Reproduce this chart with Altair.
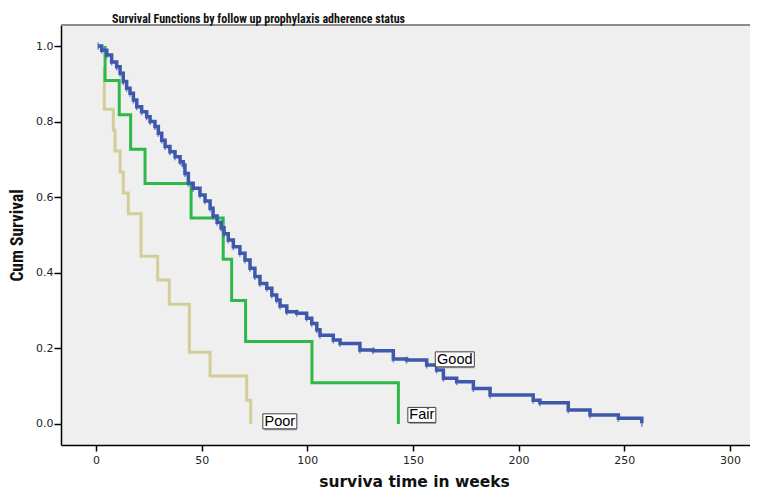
import altair as alt
import pandas as pd

# ---------------- data ----------------
good_t = [1.0, 2.7, 5.1, 7.4, 9.8, 11.4, 12.9, 14.5, 16.1, 17.7, 19.3, 21.6, 24.0, 25.6,
          27.9, 29.5, 31.1, 32.7, 35.0, 37.4, 39.8, 41.3, 42.1, 43.7, 46.0, 49.2, 51.6,
          54.0, 55.4, 57.3, 59.2, 60.6, 62.6, 65.0, 68.1, 70.5, 72.9, 75.2, 77.6, 80.8,
          83.2, 85.5, 87.1, 90.3, 95.0, 99.7, 102.1, 104.5, 106.0, 112.3, 115.5, 124.9,
          131.2, 140.7, 147.0, 156.5, 161.2, 164.4, 170.7, 178.6, 186.5, 206.9, 210.1,
          223.5, 233.8, 247.2, 258.3]
good_s = [1.0, 0.989, 0.976, 0.958, 0.945, 0.928, 0.906, 0.888, 0.875, 0.857, 0.839, 0.826,
          0.813, 0.800, 0.787, 0.769, 0.751, 0.734, 0.720, 0.707, 0.694, 0.685, 0.663,
          0.637, 0.624, 0.606, 0.590, 0.571, 0.550, 0.534, 0.519, 0.503, 0.487, 0.469,
          0.452, 0.434, 0.412, 0.390, 0.372, 0.359, 0.341, 0.328, 0.312, 0.297, 0.293,
          0.280, 0.266, 0.249, 0.235, 0.222, 0.213, 0.196, 0.194, 0.172, 0.169, 0.156,
          0.143, 0.121, 0.112, 0.094, 0.077, 0.063, 0.056, 0.037, 0.024, 0.015, 0.002]

fair_t = [4.3, 4.3, 11.0, 16.4, 23.2, 45.0, 60.2, 64.2, 70.8, 102.2, 143.1]
fair_s = [1.0, 0.909, 0.818, 0.727, 0.636, 0.545, 0.436, 0.327, 0.218, 0.109, 0.0]

poor_t = [3.9, 3.9, 8.2, 9.0, 11.4, 12.9, 15.3, 21.3, 29.2, 34.7, 44.2, 54.0, 71.3, 73.2]
poor_s = [0.945, 0.833, 0.778, 0.722, 0.667, 0.611, 0.556, 0.444, 0.381, 0.317, 0.190,
          0.127, 0.063, 0.0]

label_text = ["Good", "Fair", "Poor"]
label_t = [169.8, 154.2, 87.0]
label_s = [0.171, 0.024, 0.007]

x_ticks = [0, 50, 100, 150, 200, 250, 300]
y_ticks = [0.0, 0.2, 0.4, 0.6, 0.8, 1.0]

# ---------------- styling ----------------
W, H = 689, 420
X_DOM = [-16.56, 309.5]
Y_DOM = [-0.0556, 1.0556]
BLUE, GREEN, TAN = "#3E58AC", "#2EB848", "#D3CE97"
BOX_PX = {"Good": 39, "Fair": 28, "Poor": 34}
BOX_H = 15
NARROW = "Roboto Condensed, Liberation Sans Narrow, Roboto, Liberation Sans"


def series(ts, ss):
    return pd.DataFrame({"t": ts, "s": ss, "i": list(range(len(ts)))})


good_df = series(good_t, good_s)
fair_df = series(fair_t, fair_s)
poor_df = series(poor_t, poor_s)

px_x = W / (X_DOM[1] - X_DOM[0])
px_y = H / (Y_DOM[1] - Y_DOM[0])
lab_df = pd.DataFrame({"label": label_text, "t": label_t, "s": label_s})
lab_df["x1"] = [t - BOX_PX[l] / 2 / px_x for t, l in zip(label_t, label_text)]
lab_df["x2"] = [t + BOX_PX[l] / 2 / px_x for t, l in zip(label_t, label_text)]
lab_df["y1"] = [s - BOX_H / 2 / px_y for s in label_s]
lab_df["y2"] = [s + BOX_H / 2 / px_y for s in label_s]

xs = alt.Scale(domain=X_DOM, nice=False, zero=False)
ys = alt.Scale(domain=Y_DOM, nice=False, zero=False)

x_axis = alt.Axis(values=x_ticks, title="surviva time in weeks", grid=False,
                  domainColor="#000", domainWidth=1.5, tickColor="#000", tickWidth=1.5,
                  tickSize=6, labelPadding=3, labelFont="DejaVu Sans", labelFontSize=11,
                  labelColor="#222", titleFont="DejaVu Sans", titleFontSize=15.5,
                  titleFontWeight="bold", titleColor="#111", titlePadding=9, titleX=353)
y_axis = alt.Axis(values=y_ticks, format=".1f", title="Cum Survival", grid=False,
                  domainColor="#000", domainWidth=1.5, tickColor="#000", tickWidth=1.5,
                  tickSize=7, labelPadding=1, labelFont="DejaVu Sans", labelFontSize=11,
                  labelColor="#222",
                  titleFont=NARROW, titleFontSize=17.5, titleFontWeight="bold",
                  titleColor="#111", titlePadding=9)

X = alt.X("t:Q", scale=xs, axis=x_axis)
Y = alt.Y("s:Q", scale=ys, axis=y_axis)
X1 = alt.X("x1:Q", scale=xs, axis=x_axis)
Y1 = alt.Y("y1:Q", scale=ys, axis=y_axis)


def km_line(df, color, width):
    return alt.Chart(df).mark_line(interpolate="step-after", color=color,
                                   strokeWidth=width).encode(x=X, y=Y, order=alt.Order("i:Q"))


poor_line = km_line(poor_df, TAN, 3)
fair_line = km_line(fair_df, GREEN, 3)
good_line = km_line(good_df, BLUE, 3.5)
good_cens = alt.Chart(good_df).mark_tick(orient="vertical", color=BLUE, size=7,
                                         thickness=1.5).encode(x=X, y=Y)

top_border = alt.Chart(pd.DataFrame({"a": [0]})).mark_rule(color="#8c8c8c", strokeWidth=2).encode(
    x=alt.value(0), x2=alt.value(W), y=alt.value(0))

box_shadow = alt.Chart(lab_df).mark_rect(fill="#9a9a9a", xOffset=1.5, yOffset=1.5).encode(
    x=X1, x2="x2:Q", y=Y1, y2="y2:Q")
box = alt.Chart(lab_df).mark_rect(fill="white", stroke="#444", strokeWidth=1).encode(
    x=X1, x2="x2:Q", y=Y1, y2="y2:Q")
text = alt.Chart(lab_df).mark_text(font="Liberation Sans", fontSize=14.5, color="#000",
                                   align="center", baseline="middle", dy=0.5).encode(
    x=X, y=Y, text="label:N")

chart = alt.layer(poor_line, fair_line, good_line, good_cens,
                  box_shadow, box, text, top_border).properties(
    width=W, height=H,
    background="white",
    padding={"left": 53, "top": 17, "right": 0, "bottom": 45},
    autosize=alt.AutoSizeParams(type="none"),
    title=alt.TitleParams("Survival Functions by follow up prophylaxis adherence status",
                          anchor="start", frame="group", dx=51, dy=3, offset=1,
                          font=NARROW, fontSize=12, fontWeight="bold", color="#111"),
).configure_view(stroke=None, fill="#EFEFEF")

chart.save("out.html", embed_options={"renderer": "svg", "actions": False})
